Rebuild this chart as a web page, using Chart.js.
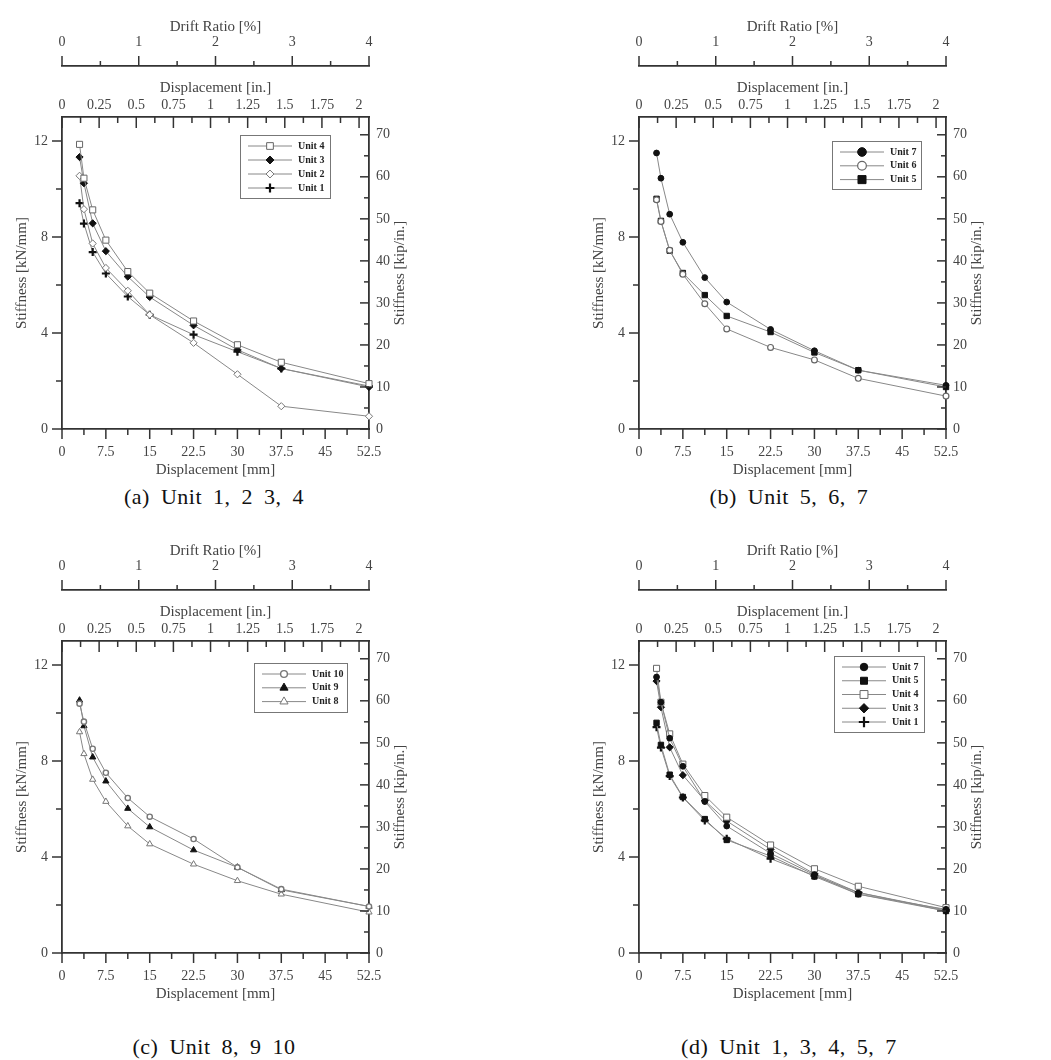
<!DOCTYPE html>
<html>
<head>
<meta charset="utf-8">
<script src="https://cdn.jsdelivr.net/npm/chart.js@4.4.0/dist/chart.umd.min.js"></script>
<style>
  body { margin: 0; background: #fff; width: 1051px; height: 1060px; position: relative; overflow: hidden; }
  .panel { position: absolute; }
  .cap { position: absolute; width: 320px; text-align: center; font-family: "Liberation Serif", serif;
         font-size: 22px; line-height: 26px; color: #111; word-spacing: 5px; letter-spacing: 0.5px; }
</style>
</head>
<body>
<canvas id="chartA" class="panel" width="470" height="480" style="left:0;top:0"></canvas>
<canvas id="chartB" class="panel" width="470" height="480" style="left:577px;top:0"></canvas>
<canvas id="chartC" class="panel" width="470" height="480" style="left:0;top:524px"></canvas>
<canvas id="chartD" class="panel" width="470" height="480" style="left:577px;top:524px"></canvas>
<div class="cap" style="left:54px;top:484px">(a) Unit 1, 2 3, 4</div>
<div class="cap" style="left:629px;top:484px">(b) Unit 5, 6, 7</div>
<div class="cap" style="left:54px;top:1034px">(c) Unit 8, 9 10</div>
<div class="cap" style="left:629px;top:1034px">(d) Unit 1, 3, 4, 5, 7</div>
<script>
// displacement steps [mm] and stiffness [kN/mm]
const dispMm = [3, 3.75, 5.25, 7.5, 11.25, 15, 22.5, 30, 37.5, 52.5];
const unit1 = [9.41, 8.56, 7.37, 6.48, 5.52, 4.76, 3.93, 3.22, 2.52, 1.79];
const unit2 = [10.55, 9.16, 7.73, 6.71, 5.76, 4.76, 3.59, 2.28, 0.95, 0.53];
const unit3 = [11.33, 10.24, 8.57, 7.41, 6.35, 5.5, 4.32, 3.3, 2.52, 1.75];
const unit4 = [11.86, 10.45, 9.13, 7.87, 6.56, 5.66, 4.5, 3.51, 2.78, 1.89];
const unit5 = [9.59, 8.67, 7.43, 6.5, 5.58, 4.71, 4.04, 3.19, 2.45, 1.75];
const unit6 = [9.55, 8.65, 7.45, 6.45, 5.22, 4.17, 3.4, 2.88, 2.11, 1.37];
const unit7 = [11.5, 10.45, 8.95, 7.78, 6.31, 5.29, 4.15, 3.26, 2.45, 1.82];
const unit8 = [9.21, 8.3, 7.23, 6.31, 5.29, 4.54, 3.7, 3.01, 2.45, 1.7];
const unit9 = [10.53, 9.46, 8.16, 7.16, 6.02, 5.25, 4.29, 3.57, 2.63, 1.94];
const unit10 = [10.39, 9.64, 8.51, 7.51, 6.46, 5.68, 4.75, 3.57, 2.66, 1.94];

const series = {
  'Unit 1': unit1, 'Unit 2': unit2, 'Unit 3': unit3, 'Unit 4': unit4, 'Unit 5': unit5,
  'Unit 6': unit6, 'Unit 7': unit7, 'Unit 8': unit8, 'Unit 9': unit9, 'Unit 10': unit10
};

// axis ranges / tick steps
const mmMax = 52.5, mmStep = 3.75, mmLabelStep = 7.5;
const mmPerIn = 25.4, inStep = 0.125, inLabelStep = 0.25;
const driftMax = 4, driftStep = 0.5;
const kNMax = 13, kNStep = 2, kNLabelStep = 4;
const kipPerKN = 1 / 0.17513, kipStep = 5, kipLabelStep = 10;
const rightTitle = 'Stiffness [kip/in.]';

const unitStyle = {
  'Unit 1':  { pointStyle: 'cross',    r: 4,   fill: '#111', stroke: '#111', bw: 2.2 },
  'Unit 2':  { pointStyle: 'rectRot',  r: 3.6, fill: '#fff', stroke: '#777', bw: 1 },
  'Unit 3':  { pointStyle: 'rectRot',  r: 3.6, fill: '#111', stroke: '#111', bw: 1 },
  'Unit 4':  { pointStyle: 'rect',     r: 4.3, fill: '#fff', stroke: '#666', bw: 1 },
  'Unit 5':  { pointStyle: 'rect',     r: 3.8, fill: '#111', stroke: '#111', bw: 1 },
  'Unit 6':  { pointStyle: 'circle',   r: 2.9, fill: '#fff', stroke: '#666', bw: 1.2 },
  'Unit 7':  { pointStyle: 'circle',   r: 2.9, fill: '#111', stroke: '#111', bw: 1 },
  'Unit 8':  { pointStyle: 'triangle', r: 3.6, fill: '#fff', stroke: '#777', bw: 1 },
  'Unit 9':  { pointStyle: 'triangle', r: 3.6, fill: '#111', stroke: '#111', bw: 1 },
  'Unit 10': { pointStyle: 'circle',   r: 2.6, fill: '#fff', stroke: '#777', bw: 1.4 }
};

const serif = '"Liberation Serif", "Times New Roman", serif';
const tickFont = { family: serif, size: 14 };
const titleFont = { family: serif, size: 15 };
const textColor = '#444';
const axisBorder = { color: '#333', width: 1.8 };

const isMult = (v, step) => Math.abs(v / step - Math.round(v / step)) < 1e-6;
const fmt = v => String(+v.toFixed(3));

function makeScales() {
  const noGrid = { display: false, drawTicks: false };
  return {
    x: {
      type: 'linear', position: 'bottom', min: 0, max: mmMax,
      grid: noGrid, border: axisBorder,
      ticks: { stepSize: mmStep, includeBounds: false, autoSkip: false, maxRotation: 0,
               padding: 15, font: tickFont, color: textColor,
               callback: v => isMult(v, mmLabelStep) ? fmt(v) : '' },
      title: { display: true, text: 'Displacement [mm]', font: titleFont, color: textColor, padding: 0 },
      afterFit: s => { s.height = 50; }
    },
    xIn: {
      type: 'linear', position: 'top', min: 0, max: mmMax / mmPerIn, weight: 0,
      grid: noGrid, border: axisBorder,
      ticks: { stepSize: inStep, includeBounds: false, autoSkip: false, maxRotation: 0,
               padding: 3, font: tickFont, color: textColor,
               callback: v => isMult(v, inLabelStep) ? fmt(v) : '' },
      title: { display: true, text: 'Displacement [in.]', font: titleFont, color: textColor, padding: { top: 13, bottom: 0 } },
      afterFit: s => { s.height = 51; }
    },
    xDrift: {
      type: 'linear', position: 'top', min: 0, max: driftMax, weight: 1,
      grid: noGrid, border: axisBorder,
      ticks: { stepSize: driftStep, includeBounds: false, autoSkip: false, maxRotation: 0,
               padding: 15, font: tickFont, color: textColor,
               callback: v => isMult(v, 1) ? fmt(v) : '' },
      title: { display: true, text: 'Drift Ratio [%]', font: titleFont, color: textColor, padding: { top: 18, bottom: 0 } },
      afterFit: s => { s.height = 66; }
    },
    y: {
      type: 'linear', position: 'left', min: 0, max: kNMax,
      grid: noGrid, border: axisBorder,
      ticks: { stepSize: kNStep, includeBounds: false, autoSkip: false,
               padding: 14, font: tickFont, color: textColor,
               callback: v => isMult(v, kNLabelStep) ? fmt(v) : '' },
      title: { display: true, text: 'Stiffness [kN/mm]', font: titleFont, color: textColor, padding: { top: 13, bottom: 0 } },
      afterFit: s => { s.width = 62; }
    },
    y2: {
      type: 'linear', position: 'right', min: 0, max: kNMax * kipPerKN,
      grid: noGrid, border: axisBorder,
      ticks: { stepSize: kipStep, includeBounds: false, autoSkip: false,
               padding: 7, font: tickFont, color: textColor,
               callback: v => isMult(v, kipLabelStep) ? fmt(v) : '' },
      title: { display: false },
      afterFit: s => { s.width = 50; }
    }
  };
}

// tick marks with major/minor lengths, some pointing into the plot
function tickMarks(specs) {
  return {
    id: 'tickMarks',
    afterDraw(chart) {
      const ctx = chart.ctx;
      ctx.save();
      ctx.strokeStyle = '#333';
      ctx.lineWidth = 1.5;
      specs.forEach(sp => {
        const s = chart.scales[sp.id];
        let base, out;
        if (s.position === 'left') { base = s.right; out = -1; }
        else if (s.position === 'right') { base = s.left; out = 1; }
        else if (s.position === 'top') { base = s.bottom; out = -1; }
        else { base = s.top; out = 1; }
        const sign = sp.inward ? -out : out;
        s.ticks.forEach(t => {
          const p = s.getPixelForValue(t.value);
          const len = t.label !== '' ? sp.major : sp.minor;
          ctx.beginPath();
          if (s.isHorizontal()) { ctx.moveTo(p, base); ctx.lineTo(p, base + sign * len); }
          else { ctx.moveTo(base, p); ctx.lineTo(base + sign * len, p); }
          ctx.stroke();
        });
      });

      // right axis title, reading bottom to top like the left one
      const r = chart.scales.y2;
      ctx.translate(r.right - 19, (r.top + r.bottom) / 2);
      ctx.rotate(-Math.PI / 2);
      ctx.fillStyle = textColor;
      ctx.font = titleFont.size + 'px ' + serif;
      ctx.textAlign = 'center';
      ctx.textBaseline = 'middle';
      ctx.fillText(rightTitle, 0, 0);
      ctx.restore();
    }
  };
}

const tickSpecs = [
  { id: 'x', inward: false, major: 10, minor: 6 },
  { id: 'xIn', inward: true, major: 11, minor: 6 },
  { id: 'xDrift', inward: false, major: 10, minor: 5 },
  { id: 'y', inward: false, major: 10, minor: 6 },
  { id: 'y2', inward: true, major: 9, minor: 5 }
];

// boxed legend inside the plot area
function boxLegend(cfg) {
  return {
    id: 'boxLegend',
    afterDraw(chart) {
      const { ctx, chartArea } = chart;
      const x0 = Math.round(chartArea.left + cfg.left), y0 = Math.round(chartArea.top + cfg.top);
      ctx.save();
      ctx.fillStyle = '#fff';
      ctx.fillRect(x0, y0, cfg.width, cfg.height);
      ctx.strokeStyle = '#777';
      ctx.lineWidth = 1;
      ctx.strokeRect(x0 + 0.5, y0 + 0.5, cfg.width, cfg.height);
      chart.data.datasets.forEach((ds, i) => {
        const y = y0 + 11 + i * cfg.row;
        ctx.strokeStyle = ds.borderColor;
        ctx.lineWidth = 1;
        ctx.beginPath(); ctx.moveTo(x0 + 8, y); ctx.lineTo(x0 + 52, y); ctx.stroke();
        ctx.fillStyle = ds.pointBackgroundColor;
        ctx.strokeStyle = ds.pointBorderColor;
        ctx.lineWidth = ds.pointBorderWidth;
        Chart.helpers.drawPoint(ctx, { pointStyle: ds.pointStyle, radius: ds.pointRadius * cfg.scale,
          rotation: 0, borderWidth: ds.pointBorderWidth }, x0 + 30, y);
        ctx.fillStyle = '#222';
        ctx.font = 'bold 10px ' + serif;
        ctx.textBaseline = 'middle';
        ctx.textAlign = 'left';
        ctx.fillText(ds.label, x0 + 58, y);
      });
      ctx.restore();
    }
  };
}

function makeDataset(name) {
  const st = unitStyle[name];
  const vals = series[name];
  return {
    label: name,
    data: dispMm.map((d, i) => ({ x: d, y: vals[i] })),
    xAxisID: 'x', yAxisID: 'y',
    borderColor: '#888', borderWidth: 1, fill: false, tension: 0, clip: false,
    pointStyle: st.pointStyle, pointRadius: st.r, pointHoverRadius: st.r,
    pointBackgroundColor: st.fill, pointBorderColor: st.stroke, pointBorderWidth: st.bw
  };
}

function makePanel(id, units, legendCfg) {
  new Chart(document.getElementById(id), {
    type: 'line',
    data: { datasets: units.map(makeDataset) },
    options: {
      responsive: false,
      animation: false,
      events: [],
      layout: { padding: { left: 0, top: 0, right: 51, bottom: 1 } },
      scales: makeScales(),
      plugins: { legend: { display: false }, title: { display: false }, tooltip: { enabled: false } }
    },
    plugins: [tickMarks(tickSpecs), boxLegend(legendCfg)]
  });
}

makePanel('chartA', ['Unit 4', 'Unit 3', 'Unit 2', 'Unit 1'],
  { left: 178, top: 18, width: 90, height: 63, row: 14, scale: 1.1 });
makePanel('chartB', ['Unit 7', 'Unit 6', 'Unit 5'],
  { left: 193, top: 24, width: 89, height: 48, row: 13.8, scale: 1.5 });
makePanel('chartC', ['Unit 10', 'Unit 9', 'Unit 8'],
  { left: 192, top: 22, width: 93, height: 49, row: 13.8, scale: 1.3 });
makePanel('chartD', ['Unit 7', 'Unit 5', 'Unit 4', 'Unit 3', 'Unit 1'],
  { left: 195, top: 15, width: 90, height: 76, row: 13.75, scale: 1.3 });
</script>
</body>
</html>
